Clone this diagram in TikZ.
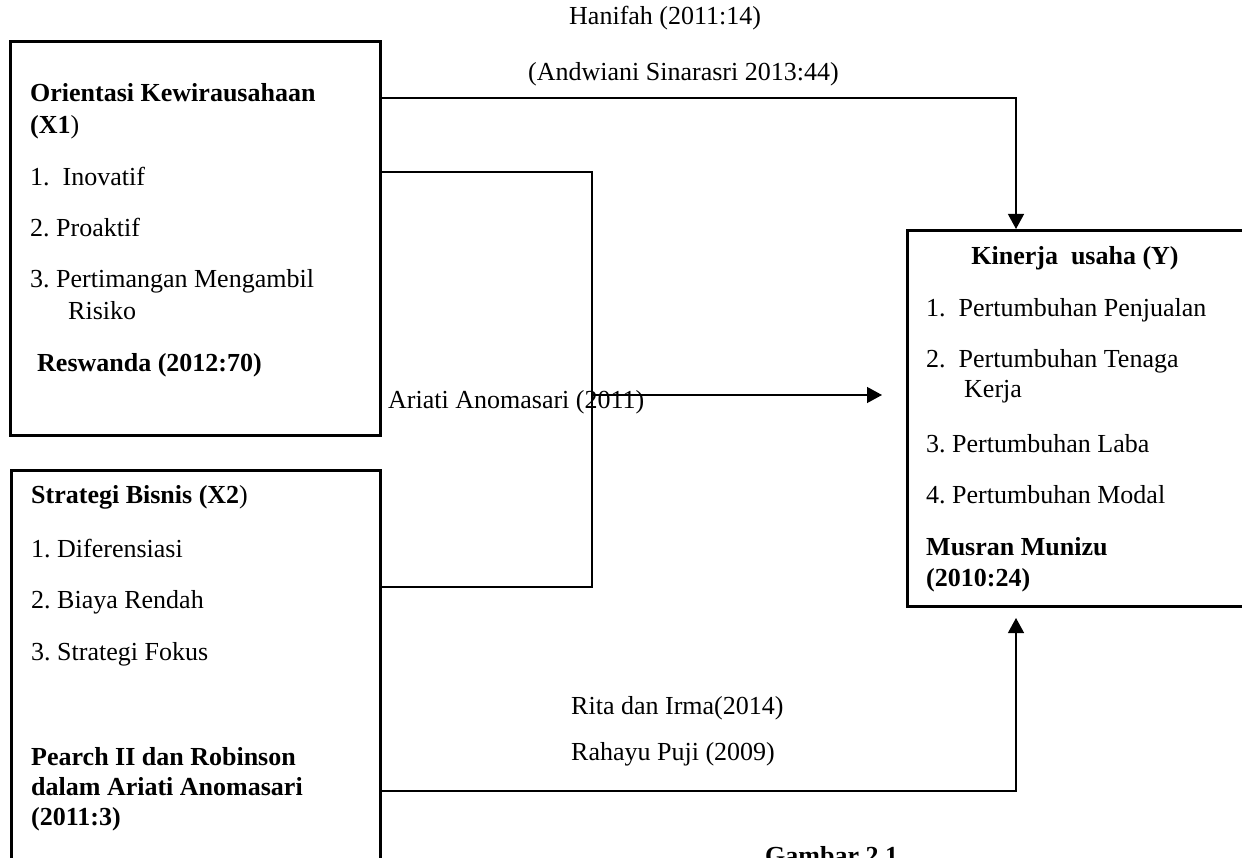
\documentclass[tikz,border=0pt]{standalone}
\usepackage{fontspec}
\setmainfont{Liberation Serif}
\usetikzlibrary{arrows.meta}
\frenchspacing
\begin{document}
\begin{tikzpicture}[x=1pt,y=-1pt,
  box/.style={draw=black,line width=2.6pt,rectangle,inner sep=0pt,anchor=north west},
  conn/.style={draw=black,line width=1.3pt},
  arr/.style={-{Triangle[length=15pt,width=16pt]}},
  txt/.style={anchor=base west,inner sep=0pt,font=\fontsize{26}{31}\selectfont},
  btxt/.style={txt,font=\fontsize{26}{31}\selectfont\bfseries}]
\useasboundingbox (0,0) rectangle (1242,858);
\clip (0,0) rectangle (1242,858);
% boxes
\node[box,minimum width=370pt,minimum height=394pt] (x1) at (9,40) {};
\node[box,minimum width=369pt,minimum height=420pt] (x2) at (10,469) {};
\node[box,minimum width=342pt,minimum height=376pt] (y) at (906,229) {};
% X1 text
\node[btxt] (x1t1) at (30,102) {Orientasi Kewirausahaan};
\node[txt] (x1t2) at (30,134) {\textbf{(X1})};
\node[txt] (x1i1) at (30,186) {1.\ \ Inovatif};
\node[txt] (x1i2) at (30,237) {2. Proaktif};
\node[txt] (x1i3) at (30,288) {3. Pertimangan Mengambil};
\node[txt] (x1i3b) at (68,320) {Risiko};
\node[btxt] (x1r) at (37,371) {Reswanda (2012:70)};
% X2 text
\node[txt] (x2t) at (31,503) {\textbf{Strategi Bisnis (X2})};
\node[txt] (x2i1) at (31,557) {1. Diferensiasi};
\node[txt] (x2i2) at (31,608) {2. Biaya Rendah};
\node[txt] (x2i3) at (31,660) {3. Strategi Fokus};
\node[btxt] (x2r1) at (31,765) {Pearch II dan Robinson};
\node[btxt] (x2r2) at (31,795) {dalam Ariati Anomasari};
\node[btxt] (x2r3) at (31,825) {(2011:3)};
% Y text
\node[btxt,anchor=base] (yt) at (1075,265) {Kinerja\ \ usaha (Y)};
\node[txt] (yi1) at (926,317) {1.\ \ Pertumbuhan Penjualan};
\node[txt] (yi2) at (926,368) {2.\ \ Pertumbuhan Tenaga};
\node[txt] (yi2b) at (964,398) {Kerja};
\node[txt] (yi3) at (926,452) {3. Pertumbuhan Laba};
\node[txt] (yi4) at (926,503) {4. Pertumbuhan Modal};
\node[btxt] (yr1) at (926,555) {Musran Munizu};
\node[btxt] (yr2) at (926,586) {(2010:24)};
% connector labels
\node[txt] (l1) at (569,25) {Hanifah (2011:14)};
\node[txt] (l2) at (528,81) {(Andwiani Sinarasri 2013:44)};
\node[txt] (l3) at (388,408) {Ariati Anomasari (2011)};
\node[txt] (l4) at (571,714) {Rita dan Irma(2014)};
\node[txt] (l5) at (571,760) {Rahayu Puji (2009)};
\node[btxt] (cap) at (765,864) {Gambar 2.1};
% connectors
\coordinate (c1) at (1016,98);
\draw[conn,arr] (c1 -| x1.east) -- (c1) -- (c1 |- y.north);
\coordinate (c2a) at (592,172);
\coordinate (c2b) at (592,587);
\draw[conn] (c2a -| x1.east) -- (c2a) -- (c2b) -- (c2b -| x2.east);
\coordinate (c3) at (592,395);
\coordinate (c3e) at (882,395);
\draw[conn,arr] (c3) -- (c3e);
\coordinate (c4) at (1016,791);
\coordinate (c4e) at (1016,618);
\draw[conn,arr] (c4 -| x2.east) -- (c4) -- (c4e);
\end{tikzpicture}
\end{document}
